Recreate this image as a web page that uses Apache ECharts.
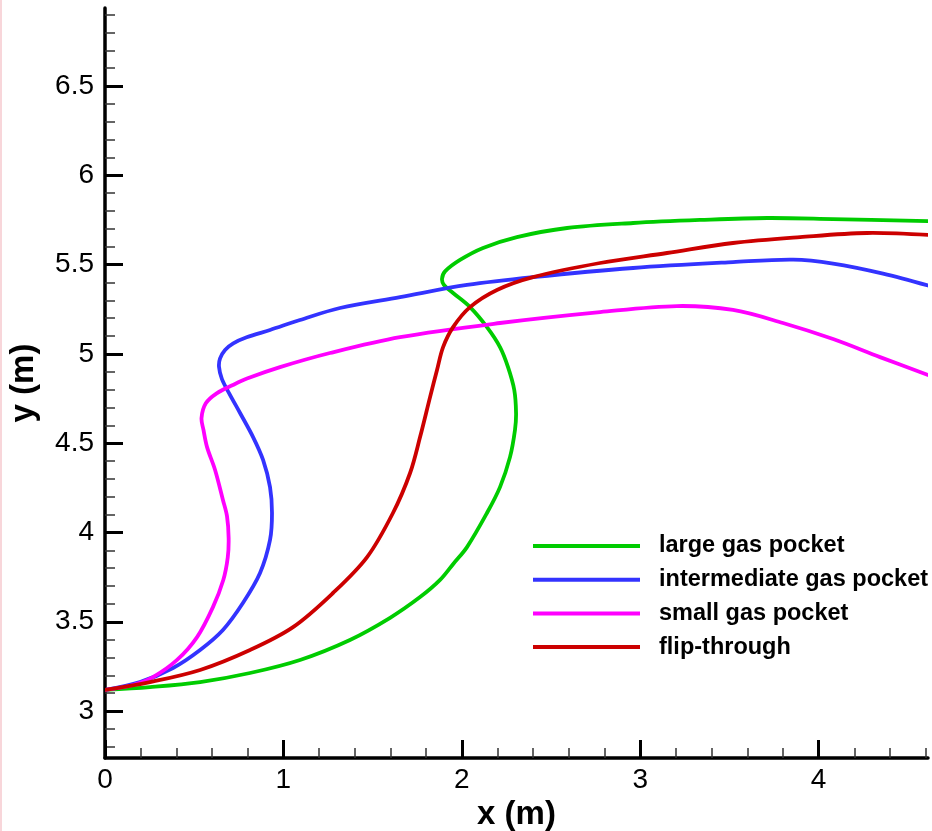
<!DOCTYPE html>
<html>
<head>
<meta charset="utf-8">
<script src="https://cdn.jsdelivr.net/npm/echarts@6/dist/echarts.min.js"></script>
<style>
html,body{margin:0;padding:0;background:#fff;}
#chart{width:932px;height:831px;}
</style>
</head>
<body>
<div id="chart"></div>
<script>
// ---- data (x, y in metres) ----
const seriesNames = ['large gas pocket', 'intermediate gas pocket', 'small gas pocket', 'flip-through'];

const largeGasPocket = [
  [0,3.118],[0.252,3.134],[0.533,3.162],[0.813,3.213],[1.093,3.286],[1.373,3.398],
  [1.598,3.522],[1.766,3.638],[1.878,3.734],[1.953,3.825],[2.029,3.918],[2.141,4.109],[2.214,4.254],
  [2.270,4.422],[2.298,4.574],[2.304,4.669],[2.294,4.798],[2.259,4.926],[2.214,5.038],
  [2.141,5.150],[2.046,5.262],[1.951,5.341],[1.900,5.386],[1.889,5.420],[1.906,5.462],
  [1.990,5.526],[2.119,5.593],[2.309,5.654],[2.590,5.705],[2.960,5.733],[3.335,5.750],
  [3.711,5.761],[4.081,5.755],[4.613,5.744]
];

const intermediateGasPocket = [
  [0,3.118],[0.196,3.162],[0.381,3.241],[0.533,3.342],[0.661,3.454],[0.773,3.605],
  [0.869,3.773],[0.925,3.958],[0.936,4.109],[0.925,4.254],[0.886,4.406],[0.830,4.534],
  [0.757,4.669],[0.696,4.779],[0.655,4.860],[0.639,4.928],[0.645,4.975],[0.673,5.022],
  [0.719,5.059],[0.794,5.093],[0.925,5.134],[1.093,5.190],[1.317,5.257],[1.654,5.318],[2.029,5.386],
  [2.399,5.430],[2.960,5.481],[3.520,5.514],[3.857,5.528],[4.081,5.506],[4.361,5.450],
  [4.613,5.383]
];

const smallGasPocket = [
  [0,3.118],[0.157,3.146],[0.269,3.190],[0.404,3.286],[0.516,3.414],[0.605,3.582],
  [0.663,3.734],[0.688,3.860],[0.693,3.969],[0.684,4.090],[0.661,4.182],[0.617,4.350],
  [0.572,4.478],[0.552,4.574],[0.541,4.641],[0.565,4.723],[0.626,4.779],[0.717,4.826],
  [0.796,4.862],[0.981,4.926],[1.261,5.005],[1.654,5.094],[2.214,5.173],[2.775,5.234],
  [3.206,5.268],[3.520,5.246],[3.800,5.173],[4.081,5.083],[4.344,4.982],[4.613,4.882]
];

const flipThrough = [
  [0,3.118],[0.252,3.162],[0.533,3.230],[0.813,3.342],[1.054,3.470],[1.278,3.661],
  [1.469,3.862],[1.614,4.109],[1.710,4.333],[1.766,4.534],[1.822,4.758],[1.861,4.910],
  [1.895,5.038],[1.951,5.150],[2.046,5.262],[2.197,5.358],[2.399,5.430],[2.775,5.509],
  [3.150,5.565],[3.520,5.621],[3.896,5.654],[4.271,5.677],[4.613,5.666]
];

const xTickLabels = [0, 1, 2, 3, 4];
const yTickLabels = [3, 3.5, 4, 4.5, 5, 5.5, 6, 6.5];
const xRange = [0, 4.613];
const yRange = [2.737, 6.937];

// minor tick positions
const xMinor = [];
for (let i = 1; i <= 23; i++) { if (i % 5 !== 0) xMinor.push(Math.round(i * 2) / 10); }
const yMinor = [];
for (let i = 28; i <= 69; i++) { if (i % 5 !== 0) yMinor.push(i / 10); }

const colors = ['#00cc00', '#3333ff', '#ff00ff', '#cc0000'];
const datasets = [largeGasPocket, intermediateGasPocket, smallGasPocket, flipThrough];
const FONT = "'Liberation Sans', Arial, Helvetica, sans-serif";

function makeRenderer(idx) {
  return function (params, api) {
    if (params.dataIndex !== 0) return null;
    const pts = datasets[idx].map(function (p) { return api.coord(p); });
    return {
      type: 'polyline',
      shape: { points: pts, smooth: 0.34 },
      style: { stroke: colors[idx], lineWidth: 3.8, fill: null, lineJoin: 'round', lineCap: 'round' },
      silent: true
    };
  };
}

const chart = echarts.init(document.getElementById('chart'));
chart.setOption({
  animation: false,
  backgroundColor: '#ffffff',
  grid: { left: 105, right: 4, top: 8, bottom: 73, outerBoundsMode: 'none', containLabel: false },
  graphic: [{
    type: 'rect', left: 0, top: 0, shape: { width: 2, height: 831 },
    style: { fill: '#f8d6da' }, silent: true
  }],
  legend: {
    orient: 'vertical', left: 528, top: 529,
    itemWidth: 107, itemHeight: 4, itemGap: 9.7, icon: 'rect',
    data: seriesNames.map(function (n, i) { return { name: n, itemStyle: { color: colors[i] } }; }),
    textStyle: { fontFamily: FONT, fontWeight: 'bold', fontSize: 23.5, color: '#000', lineHeight: 24, padding: [0, 0, 0, 14] }
  },
  xAxis: [{
    type: 'value', min: xRange[0], max: xRange[1], position: 'bottom',
    name: 'x (m)', nameLocation: 'middle', nameGap: 38,
    nameTextStyle: { fontFamily: FONT, fontWeight: 'bold', fontSize: 33, color: '#000' },
    axisLine: { show: true, lineStyle: { color: '#000', width: 3.5 } },
    axisTick: { show: true, inside: true, length: 18, customValues: xTickLabels, lineStyle: { color: '#000', width: 3 } },
    axisLabel: { show: true, customValues: xTickLabels, margin: 8, fontFamily: FONT, fontSize: 28, color: '#000' },
    splitLine: { show: false }
  }, {
    type: 'value', min: xRange[0], max: xRange[1], position: 'bottom', offset: 0,
    axisLine: { show: false },
    axisTick: { show: true, inside: true, length: 10, customValues: xMinor, lineStyle: { color: '#333', width: 1.5 } },
    axisLabel: { show: false },
    splitLine: { show: false }
  }],
  yAxis: [{
    type: 'value', min: yRange[0], max: yRange[1], position: 'left',
    name: 'y (m)', nameLocation: 'middle', nameGap: 65, nameRotate: 90,
    nameTextStyle: { fontFamily: FONT, fontWeight: 'bold', fontSize: 33, color: '#000' },
    axisLine: { show: true, lineStyle: { color: '#000', width: 3.5 } },
    axisTick: { show: true, inside: true, length: 18, customValues: yTickLabels, lineStyle: { color: '#000', width: 3 } },
    axisLabel: { show: true, customValues: yTickLabels, margin: 11, fontFamily: FONT, fontSize: 28, color: '#000' },
    splitLine: { show: false }
  }, {
    type: 'value', min: yRange[0], max: yRange[1], position: 'left', offset: 0,
    axisLine: { show: false },
    axisTick: { show: true, inside: true, length: 10, customValues: yMinor, lineStyle: { color: '#333', width: 1.5 } },
    axisLabel: { show: false },
    splitLine: { show: false }
  }],
  series: seriesNames.map(function (name, i) {
    return {
      name: name, type: 'custom', xAxisIndex: 0, yAxisIndex: 0,
      coordinateSystem: 'cartesian2d',
      data: datasets[i], encode: { x: 0, y: 1 },
      renderItem: makeRenderer(i),
      itemStyle: { color: colors[i] },
      clip: true, z: 2
    };
  })
});
</script>
</body>
</html>
